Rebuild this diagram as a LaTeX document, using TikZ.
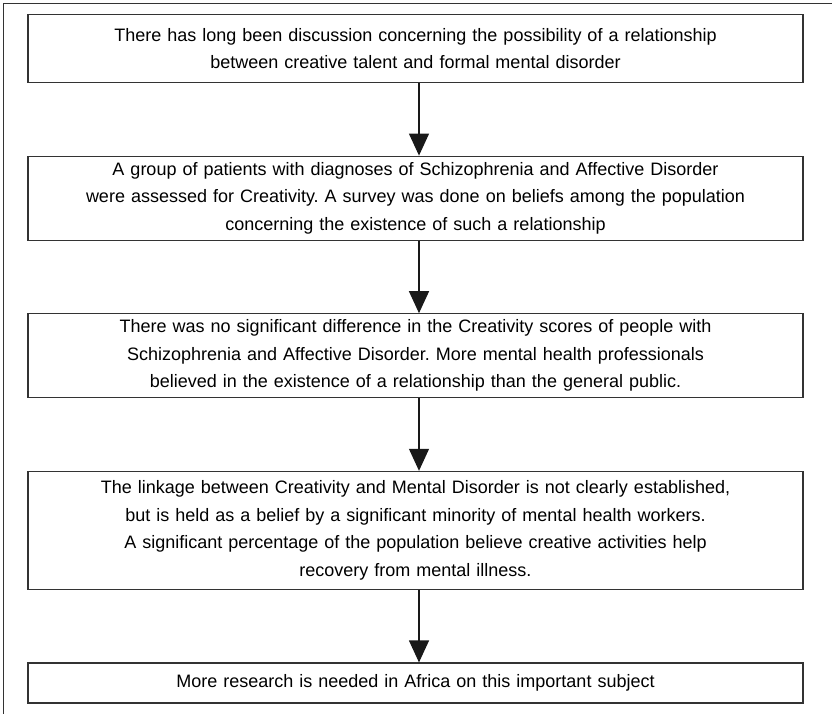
\documentclass[tikz,border=0pt]{standalone}
\usepackage{fontspec}
\setmainfont{Liberation Sans}
\usetikzlibrary{arrows.meta,positioning}

\begin{document}
\frenchspacing
\begin{tikzpicture}[x=1pt,y=1pt,>={Triangle[width=20pt,length=22pt]},node distance=72.5pt,
  box/.style={draw=black!80,line width=1.1pt,minimum width=775pt,text width=765pt,align=center,inner sep=0pt,font=\fontsize{18}{27.5}\selectfont}]
\useasboundingbox (0,0) rectangle (832,-714);
\draw[black!80,line width=1pt] (3,-714) |- (832,-4);
\node[box,minimum height=68pt,anchor=north] (0) at (415.5,-14) {There has long been discussion concerning the possibility of a relationship\\ between creative talent and formal mental disorder};
\node[box,minimum height=84pt] (1) [below=of 0] {A group of patients with diagnoses of Schizophrenia and Affective Disorder\\ were assessed for Creativity. A survey was done on beliefs among the population\\ concerning the existence of such a relationship};
\node[box,minimum height=84pt] (2) [below=of 1] {There was no significant difference in the Creativity scores of people with\\ Schizophrenia and Affective Disorder. More mental health professionals\\ believed in the existence of a relationship than the general public.};
\node[box,minimum height=118pt] (3) [below=of 2] {The linkage between Creativity and Mental Disorder is not clearly established,\\ but is held as a belief by a significant minority of mental health workers.\\ A significant percentage of the population believe creative activities help\\ recovery from mental illness.};
\node[box,minimum height=40pt] (4) [below=of 3] {More research is needed in Africa on this important subject};
\path[->,line width=1.2pt,black!90]
   ([xshift=3.5pt]0.south) edge ([xshift=3.5pt]1.north)
   ([xshift=3.5pt]1.south) edge ([xshift=3.5pt]2.north)
   ([xshift=3.5pt]2.south) edge ([xshift=3.5pt]3.north)
   ([xshift=3.5pt]3.south) edge ([xshift=3.5pt]4.north)
;
\end{tikzpicture}
\end{document}
